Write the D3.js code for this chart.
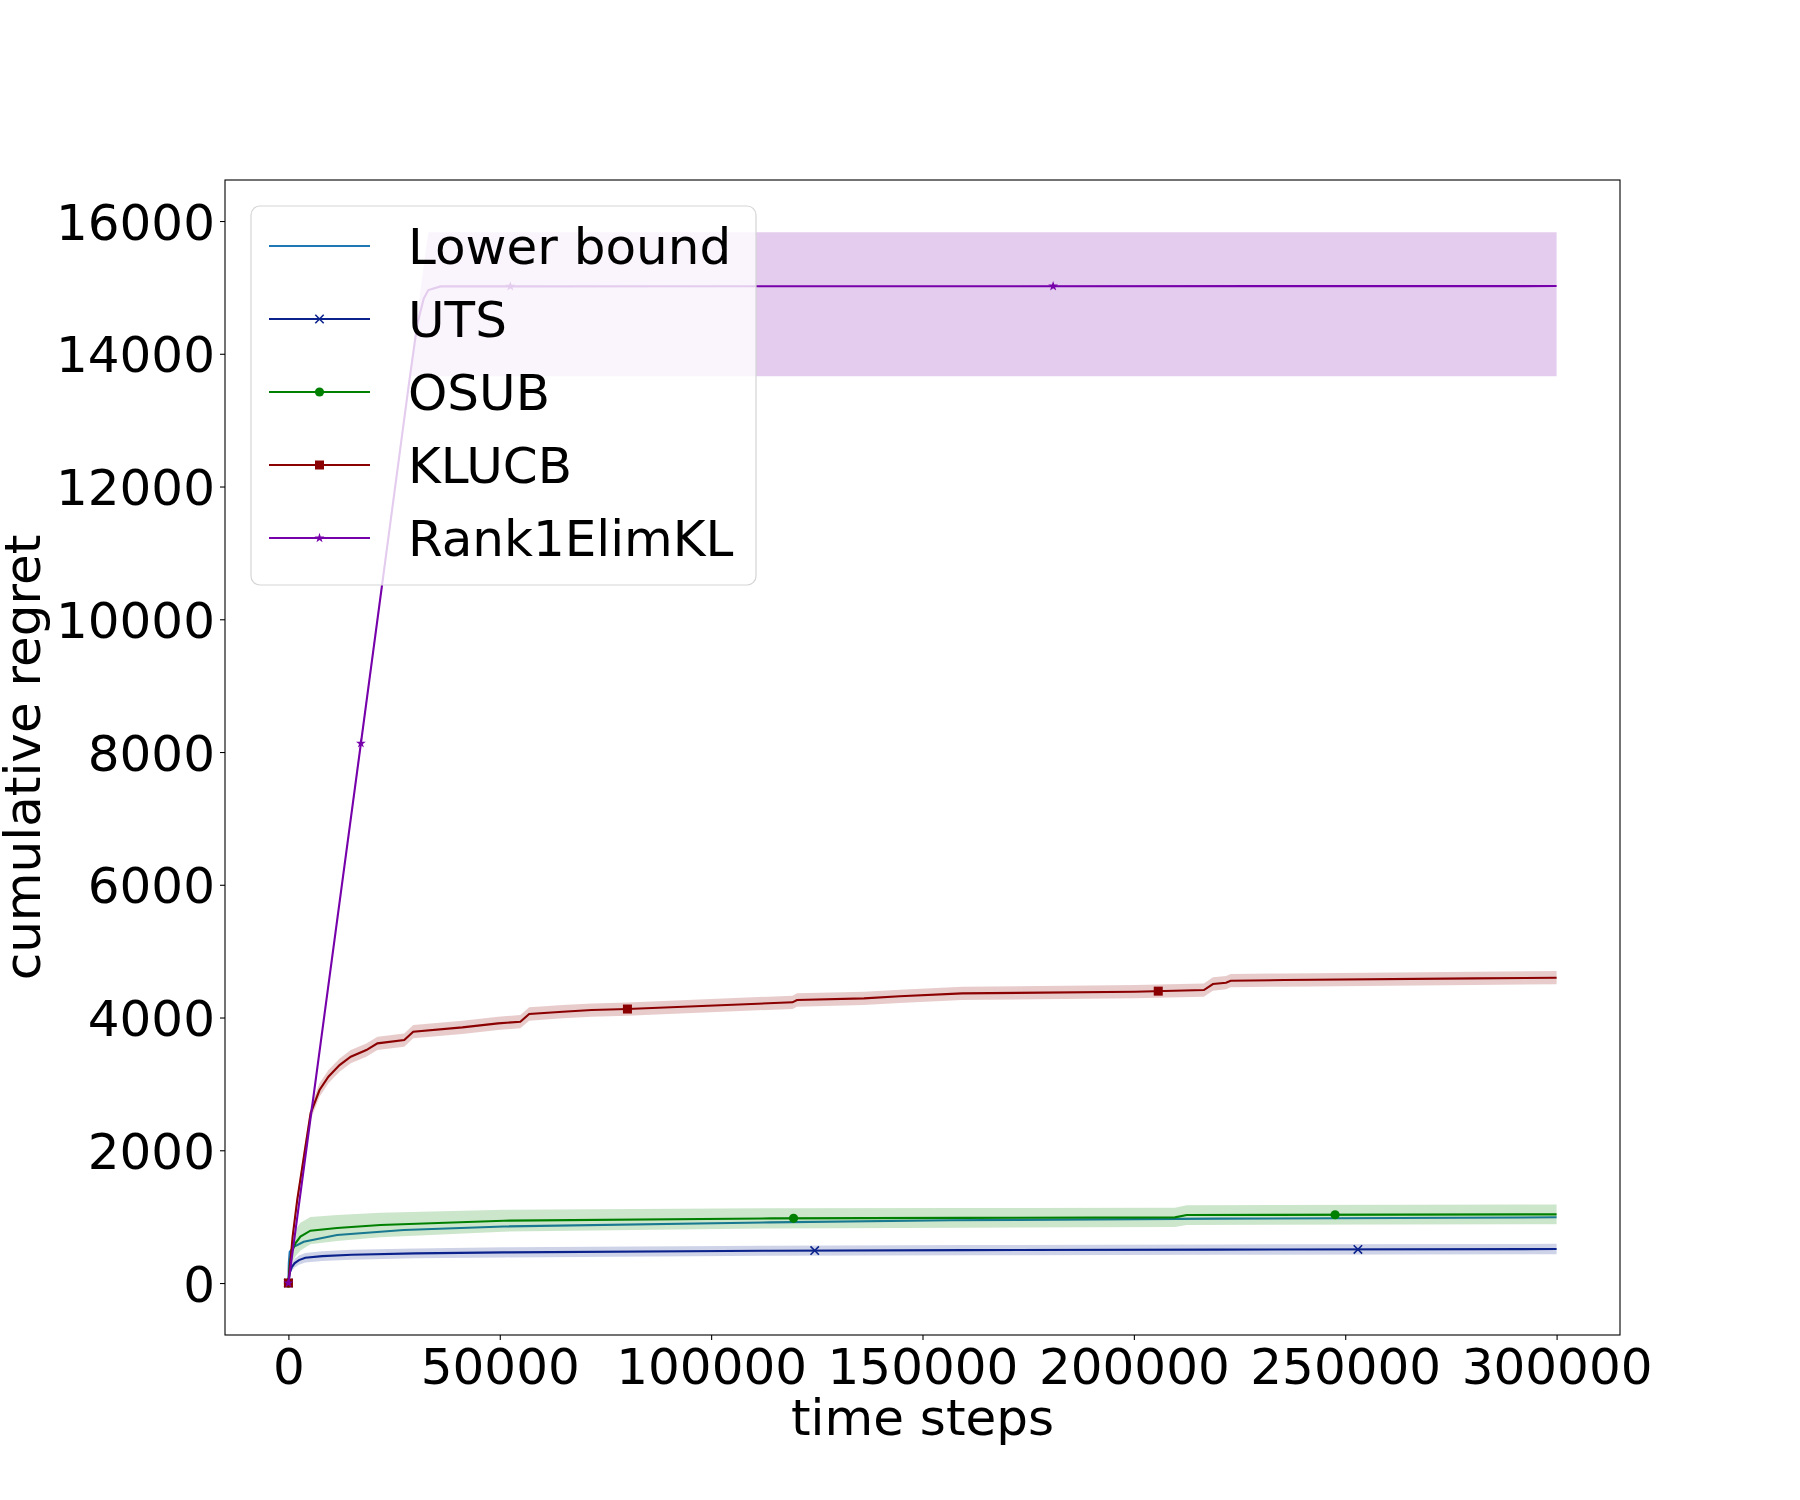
<!DOCTYPE html>
<html>
<head>
<meta charset="utf-8">
<script src="https://cdn.jsdelivr.net/npm/d3@7"></script>
<style>
  html, body { margin: 0; padding: 0; background: #ffffff; }
  svg { display: block; }
  text { font-family: "DejaVu Sans", sans-serif; fill: #000; }
</style>
</head>
<body>
<svg id="chart" width="1800" height="1500"></svg>
<script>
// ---------------- data ----------------
const xTicks = [0, 50000, 100000, 150000, 200000, 250000, 300000];
const yTicks = [0, 2000, 4000, 6000, 8000, 10000, 12000, 14000, 16000];
const seriesNames = ["Lower bound", "UTS", "OSUB", "KLUCB", "Rank1ElimKL"];

const lowerT = [0, 100, 310, 1260, 3620, 11500, 27270, 50900, 114000, 156600, 220000, 300000];
const lowerV = [0, 300, 470, 547, 622, 723, 798, 852, 914, 945, 970, 990];

const utsT  = [0, 300, 800, 1500, 2500, 4000, 8000, 15000, 30000, 51000, 114000, 160000, 220000, 300000];
const utsV  = [0, 150, 240, 300, 345, 380, 405, 425, 447, 462, 487, 495, 503, 512];
const utsHW = [0, 40, 55, 65, 70, 72, 74, 75, 75, 76, 76, 77, 78, 78];
const utsMarkT = [0, 124500, 253000];

const osubT  = [0, 300, 800, 1656, 2838, 5200, 11500, 21760, 50900, 114000, 160000, 209700, 212500, 300000];
const osubV  = [0, 250, 470, 598, 700, 789, 830, 874, 939, 974, 982, 989, 1024, 1035];
const osubHW = [0, 100, 170, 200, 210, 205, 195, 185, 165, 152, 148, 146, 148, 148];
const osubMarkT = [0, 119500, 247600];

const klT  = [0, 1000, 2080, 3660, 5250, 7360, 9460, 12100, 14750, 18440, 21060, 27400, 29530, 41140, 49580, 54860, 56960, 64900, 71750, 80200, 119260, 120300, 136150, 144600, 159400, 200170, 216570, 218700, 221800, 222900, 235600, 280400, 300000];
const klV  = [0, 700, 1250, 1903, 2556, 2908, 3108, 3284, 3410, 3510, 3611, 3661, 3786, 3852, 3912, 3937, 4053, 4088, 4113, 4128, 4229, 4264, 4289, 4320, 4364, 4389, 4414, 4505, 4525, 4555, 4565, 4590, 4600];
const klHW = [0, 60, 80, 95, 100, 100, 100, 100, 100, 100, 100, 100, 100, 100, 100, 100, 100, 100, 100, 100, 100, 100, 100, 100, 100, 100, 100, 100, 100, 100, 100, 100, 100];
const klMarkT = [0, 80200, 205770];

const r1T     = [0, 17150, 28580, 30500, 32000, 33100, 36000, 300000];
const r1V     = [0, 8130, 13580, 14450, 14830, 14960, 15015, 15020];
const r1Upper = [0, 8200, 13680, 14600, 15320, 15830, 15830, 15830];
const r1Lower = [0, 8060, 13660, 13660, 13660, 13660, 13660, 13660];
const r1MarkT = [0, 17150, 52500, 180900];

// ---------------- layout ----------------
const W = 1800, H = 1500;
const L = 225, R = 1620, T = 180, B = 1335;
const FS = 50;

const svg = d3.select("#chart");
const x = d3.scaleLinear().domain([-15000, 315000]).range([L, R]);
const y = d3.scaleLinear().domain([-783, 16618]).range([B, T]);

const colors = {
  lower: "#1f77b4",
  uts: "#0b228c",
  osub: "#008000",
  kl: "#8b0000",
  r1: "#7600aa"
};

svg.append("defs").append("clipPath").attr("id", "clip")
  .append("rect").attr("x", L).attr("y", T).attr("width", R - L).attr("height", B - T);

const plot = svg.append("g").attr("clip-path", "url(#clip)");

function zipLine(ts, vs) { return ts.map((t, i) => ({ t: t, v: vs[i] })); }
function zipBand(ts, lo, hi) { return ts.map((t, i) => ({ t: t, lo: lo[i], hi: hi[i] })); }
function interp(ts, vs, t) {
  for (let i = 1; i < ts.length; i++) {
    if (t <= ts[i]) {
      const f = (t - ts[i - 1]) / (ts[i] - ts[i - 1]);
      return vs[i - 1] + f * (vs[i] - vs[i - 1]);
    }
  }
  return vs[vs.length - 1];
}

const line = d3.line().x(d => x(d.t)).y(d => y(d.v));
const area = d3.area().x(d => x(d.t)).y0(d => y(d.lo)).y1(d => y(d.hi));

function drawMarker(g, type, cx, cy, color) {
  if (type === "x") {
    const s = 4.2;
    g.append("path")
      .attr("d", `M${cx - s},${cy - s}L${cx + s},${cy + s}M${cx - s},${cy + s}L${cx + s},${cy - s}`)
      .attr("stroke", color).attr("stroke-width", 1.6).attr("fill", "none");
  } else if (type === "o") {
    g.append("circle").attr("cx", cx).attr("cy", cy).attr("r", 4.6).attr("fill", color);
  } else if (type === "s") {
    g.append("rect").attr("x", cx - 4.5).attr("y", cy - 4.5).attr("width", 9).attr("height", 9).attr("fill", color);
  } else if (type === "*") {
    g.append("path").attr("d", d3.symbol(d3.symbolStar, 30)())
      .attr("transform", `translate(${cx},${cy})`).attr("fill", color);
  }
}

// Lower bound
plot.append("path").datum(zipLine(lowerT, lowerV))
  .attr("d", line).attr("fill", "none").attr("stroke", colors.lower).attr("stroke-width", 2.1);

function drawSeries(ts, vs, lo, hi, color, marker, markT) {
  plot.append("path").datum(zipBand(ts, lo, hi))
    .attr("d", area).attr("fill", color).attr("fill-opacity", 0.2).attr("stroke", "none");
  plot.append("path").datum(zipLine(ts, vs))
    .attr("d", line).attr("fill", "none").attr("stroke", color).attr("stroke-width", 2.1);
  markT.forEach(t => drawMarker(plot, marker, x(t), y(interp(ts, vs, t)), color));
}

drawSeries(utsT, utsV, utsV.map((v, i) => v - utsHW[i]), utsV.map((v, i) => v + utsHW[i]), colors.uts, "x", utsMarkT);
drawSeries(osubT, osubV, osubV.map((v, i) => v - osubHW[i]), osubV.map((v, i) => v + osubHW[i]), colors.osub, "o", osubMarkT);
drawSeries(klT, klV, klV.map((v, i) => v - klHW[i]), klV.map((v, i) => v + klHW[i]), colors.kl, "s", klMarkT);
drawSeries(r1T, r1V, r1Lower, r1Upper, colors.r1, "*", r1MarkT);

// ---------------- axes ----------------
const xAxis = d3.axisBottom(x).tickValues(xTicks).tickFormat(d3.format("d")).tickSize(5).tickPadding(8);
const gx = svg.append("g").attr("transform", `translate(0,${B})`).call(xAxis);
gx.select(".domain").remove();
gx.selectAll(".tick line").attr("stroke", "#000").attr("stroke-width", 1.1);
gx.selectAll(".tick text").attr("font-size", FS).attr("font-family", "DejaVu Sans").attr("fill", "#000");

const yAxis = d3.axisLeft(y).tickValues(yTicks).tickFormat(d3.format("d")).tickSize(5).tickPadding(5);
const gy = svg.append("g").attr("transform", `translate(${L},0)`).call(yAxis);
gy.select(".domain").remove();
gy.selectAll(".tick line").attr("stroke", "#000").attr("stroke-width", 1.1);
gy.selectAll(".tick text").attr("font-size", FS).attr("font-family", "DejaVu Sans").attr("fill", "#000").attr("dy", "0.36em");

// frame
svg.append("rect").attr("x", L).attr("y", T).attr("width", R - L).attr("height", B - T)
  .attr("fill", "none").attr("stroke", "#000").attr("stroke-width", 1.1);

// axis labels
svg.append("text").attr("x", (L + R) / 2).attr("y", 1435).attr("text-anchor", "middle")
  .attr("font-size", FS).text("time steps");
svg.append("text").attr("transform", `translate(40,${(T + B) / 2}) rotate(-90)`)
  .attr("text-anchor", "middle").attr("font-size", FS).text("cumulative regret");

// ---------------- legend ----------------
const legend = svg.append("g");
legend.append("rect").attr("x", 251).attr("y", 206).attr("width", 505).attr("height", 379)
  .attr("rx", 9).attr("ry", 9).attr("fill", "#ffffff").attr("fill-opacity", 0.8)
  .attr("stroke", "#d5d5d5").attr("stroke-width", 1.2);

const legendItems = [
  { name: seriesNames[0], color: colors.lower, marker: null },
  { name: seriesNames[1], color: colors.uts, marker: "x" },
  { name: seriesNames[2], color: colors.osub, marker: "o" },
  { name: seriesNames[3], color: colors.kl, marker: "s" },
  { name: seriesNames[4], color: colors.r1, marker: "*" }
];
legendItems.forEach((it, i) => {
  const cy = 246 + i * 73;
  legend.append("line").attr("x1", 269).attr("x2", 370).attr("y1", cy).attr("y2", cy)
    .attr("stroke", it.color).attr("stroke-width", 2.1);
  if (it.marker) drawMarker(legend, it.marker, 319.5, cy, it.color);
  legend.append("text").attr("x", 408).attr("y", cy + 17.5).attr("font-size", FS).text(it.name);
});
</script>
</body>
</html>
